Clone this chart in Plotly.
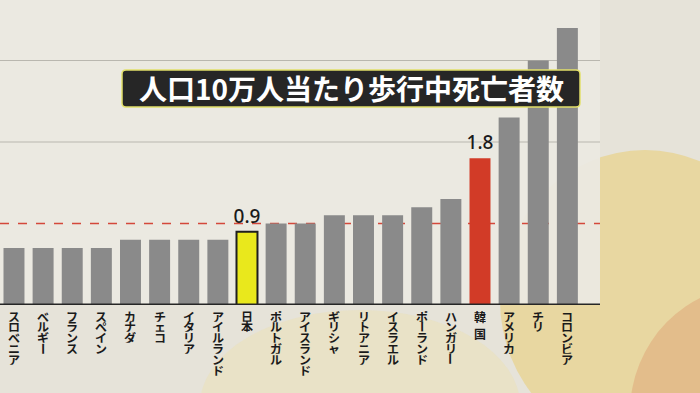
import plotly.graph_objects as go

# ---- data ----
countries = ["スロベニア", "ベルギー", "フランス", "スペイン", "カナダ", "チェコ", "イタリア",
             "アイルランド", "日本", "ポルトガル", "アイスランド", "ギリシャ", "リトアニア",
             "イスラエル", "ポーランド", "ハンガリー", "韓国", "アメリカ", "チリ", "コロンビア"]
deaths_per_100k = [0.7, 0.7, 0.7, 0.7, 0.8, 0.8, 0.8, 0.8, 0.9, 1.0, 1.0, 1.1, 1.1, 1.1,
                   1.2, 1.3, 1.8, 2.3, 3.0, 3.4]
highlight_labels = {"日本": "0.9", "韓国": "1.8"}
average_line = 1.0
grid_values = [2, 3]
title_text = "人口10万人当たり歩行中死亡者数"

# ---- geometry helpers (pixels -> paper) ----
W, H = 700, 393
PL, PR, PT, PB = 0, 600, 0, 305  # plot area in pixels


def px(x):
    return (x - PL) / (PR - PL)


def py(y):
    return (PB - y) / (PB - PT)


GRAY = "#8a8a8a"
colors = []
line_w = []
for c in countries:
    if c == "日本":
        colors.append("#e9e81c")
        line_w.append(2)
    elif c == "韓国":
        colors.append("#d23b27")
        line_w.append(0)
    else:
        colors.append(GRAY)
        line_w.append(0)

texts = [highlight_labels.get(c, "") for c in countries]

fig = go.Figure()
fig.add_trace(go.Bar(
    x=countries, y=deaths_per_100k,
    marker=dict(color=colors, line=dict(color="#1e1e1e", width=line_w)),
    text=texts, textposition="outside", constraintext="none",
    outsidetextfont=dict(size=19, color="#1a1a1a", family="Noto Sans, Roboto, sans-serif",
                         weight=500),
    cliponaxis=False, hoverinfo="skip", width=0.72,
))

shapes = []
# background blobs
shapes.append(dict(type="circle", xref="paper", yref="paper", layer="below",
                   x0=px(200), x1=px(520), y0=py(500), y1=py(310),
                   fillcolor="#eee0a6", opacity=0.35, line_width=0))
shapes.append(dict(type="circle", xref="paper", yref="paper", layer="below",
                   x0=px(500), x1=px(790), y0=py(450), y1=py(150),
                   fillcolor="#e8d597", opacity=0.85, line_width=0))
shapes.append(dict(type="circle", xref="paper", yref="paper", layer="below",
                   x0=px(630), x1=px(880), y0=py(540), y1=py(285),
                   fillcolor="#e2b887", opacity=0.85, line_width=0))
# plot area light panel
shapes.append(dict(type="rect", xref="paper", yref="paper", layer="below",
                   x0=0, x1=1, y0=0, y1=1,
                   fillcolor="#ebe9e2", opacity=0.95, line_width=0))
# grid lines
for g in grid_values:
    shapes.append(dict(type="line", xref="paper", yref="y", layer="below",
                       x0=0, x1=1, y0=g, y1=g,
                       line=dict(color="#b9b7af", width=1)))
# average dashed line
shapes.append(dict(type="line", xref="paper", yref="y", layer="below",
                   x0=0, x1=1, y0=average_line, y1=average_line,
                   line=dict(color="#d4483b", width=1.6, dash="dash")))
# baseline
shapes.append(dict(type="line", xref="paper", yref="y", layer="above",
                   x0=0, x1=1, y0=0, y1=0,
                   line=dict(color="#262626", width=3)))
# title box (rounded)
bx0, bx1, by0, by1, r = 122, 580, 70, 107, 4
path = (f"M {px(bx0+r)},{py(by0)} L {px(bx1-r)},{py(by0)} "
        f"Q {px(bx1)},{py(by0)} {px(bx1)},{py(by0+r)} L {px(bx1)},{py(by1-r)} "
        f"Q {px(bx1)},{py(by1)} {px(bx1-r)},{py(by1)} L {px(bx0+r)},{py(by1)} "
        f"Q {px(bx0)},{py(by1)} {px(bx0)},{py(by1-r)} L {px(bx0)},{py(by0+r)} "
        f"Q {px(bx0)},{py(by0)} {px(bx0+r)},{py(by0)} Z")
shapes.append(dict(type="path", xref="paper", yref="paper", layer="above", path=path,
                   fillcolor="#262626", line=dict(color="#e2e06a", width=1.5)))

annotations = []
annotations.append(dict(text=title_text, xref="paper", yref="paper",
                        x=px((bx0 + bx1) / 2), y=py((by0 + by1) / 2),
                        xanchor="center", yanchor="middle", showarrow=False,
                        font=dict(size=28, color="#ffffff", family="Noto Sans CJK JP", weight="bold")))

# vertical tick labels (one character per line)
for c in countries:
    pitch = 17 if c == "韓国" else 10.8
    for j, ch in enumerate(c):
        angle = 90 if ch == "ー" else 0
        annotations.append(dict(text=ch, x=c, xref="x", y=0, yref="y",
                                xanchor="center", yanchor="middle", textangle=angle,
                                height=pitch if angle == 0 else None,
                                width=pitch if angle == 90 else None,
                                yshift=-(11 + j * pitch), showarrow=False, borderpad=0,
                                font=dict(size=12, color="#1a1a1a", family="Noto Sans CJK JP", weight="bold")))

fig.update_layout(
    width=W, height=H,
    margin=dict(l=PL, r=W - PR, t=PT, b=H - PB, pad=0),
    paper_bgcolor="#e6e3d9", plot_bgcolor="rgba(0,0,0,0)",
    showlegend=False, bargap=0.28,
    xaxis=dict(range=[-0.48, 20.12], showticklabels=False, ticks="", showgrid=False,
               zeroline=False, showline=False, fixedrange=True),
    yaxis=dict(range=[0, 305 / 81.5], showgrid=False, showticklabels=False, ticks="",
               zeroline=False, showline=False, fixedrange=True),
    shapes=shapes, annotations=annotations,
)

fig.write_html("out.html", config={"displayModeBar": False},
               post_script="document.body.style.margin='0';document.body.style.overflow='hidden';")
